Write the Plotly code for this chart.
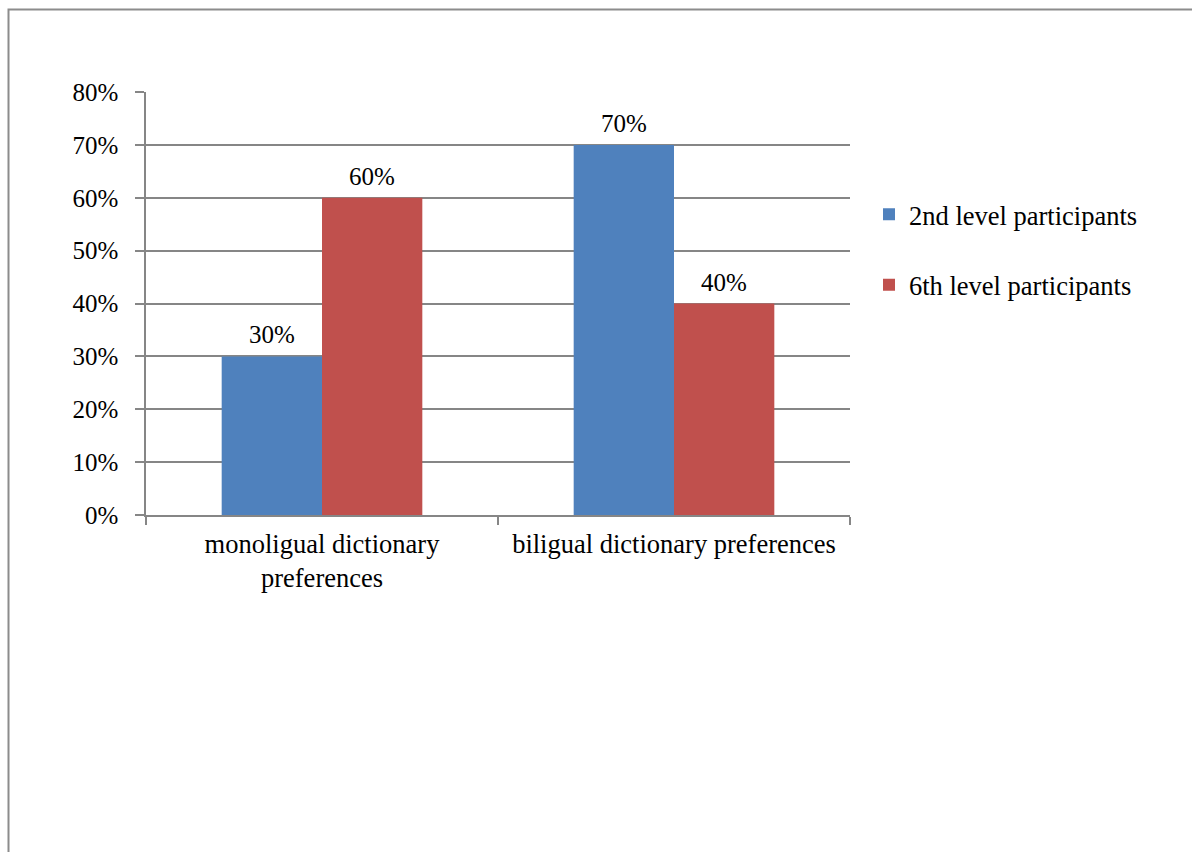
import plotly.graph_objects as go

# Dictionary preference by participant level
categories = ["monoligual dictionary<br>preferences", "biligual dictionary preferences"]
series_names = ["2nd level participants", "6th level participants"]
level2_values = [30, 70]
level6_values = [60, 40]
y_ticks = [0, 10, 20, 30, 40, 50, 60, 70, 80]

colors = ["#4F81BD", "#C0504D"]
font_family = "Liberation Serif, Times New Roman, serif"
axis_grey = "#868686"
num_size = 25
text_size = 26.5

W, H = 1192, 852
L, R, T, B = 146, 342, 92, 337
plot_w = W - L - R
plot_h = H - T - B
bar_px = 100  # bar width in pixels, used to offset value labels over each bar

fig = go.Figure()
all_series = [level2_values, level6_values]
for i, (name, vals) in enumerate(zip(series_names, all_series)):
    fig.add_trace(go.Bar(
        x=categories,
        y=vals,
        name=name,
        legendgroup=name,
        marker=dict(color=colors[i], line=dict(width=0)),
        cliponaxis=False,
    ))
    # value labels above each bar
    offset = (i - 0.5) * bar_px
    for cat, v in zip(categories, vals):
        fig.add_annotation(
            x=cat, y=v, xref="x", yref="y",
            text=f"{v}%", showarrow=False,
            xshift=offset, yshift=6, yanchor="bottom",
            font=dict(family=font_family, size=num_size, color="#000000"),
        )

# Outer chart frame (left and top edges visible)
def px_to_paper_x(px):
    return (px - L) / plot_w

def px_to_paper_y(py):
    return (H - B - py) / plot_h

fig.add_shape(
    type="rect", xref="paper", yref="paper",
    x0=px_to_paper_x(8.5), x1=px_to_paper_x(1260),
    y0=px_to_paper_y(920), y1=px_to_paper_y(9.5),
    line=dict(color="#8C8C8C", width=2), fillcolor="rgba(0,0,0,0)",
    layer="below",
)

fig.update_layout(
    width=W, height=H,
    margin=dict(l=L, r=R, t=T, b=B, autoexpand=False),
    paper_bgcolor="#FFFFFF",
    plot_bgcolor="#FFFFFF",
    barmode="group",
    bargap=0.43,
    bargroupgap=0,
    font=dict(family=font_family, size=text_size, color="#000000"),
    showlegend=True,
    legend=dict(
        x=px_to_paper_x(869), y=px_to_paper_y(249.5), xanchor="left", yanchor="middle",
        traceorder="grouped",
        tracegroupgap=33,
        font=dict(family=font_family, size=text_size, color="#000000"),
        itemwidth=30,
        bgcolor="rgba(0,0,0,0)",
    ),
    xaxis=dict(
        showgrid=False,
        showline=True, linecolor=axis_grey, linewidth=1.5,
        ticks="outside", tickson="boundaries", ticklen=8,
        tickcolor=axis_grey, tickwidth=1.5,
        ticklabelstandoff=4,
        tickfont=dict(family=font_family, size=text_size, color="#000000"),
    ),
    yaxis=dict(
        range=[0, 80],
        tickvals=y_ticks,
        ticktext=[f"{v}%" for v in y_ticks],
        showgrid=True, gridcolor=axis_grey, gridwidth=1.5,
        showline=True, linecolor=axis_grey, linewidth=1.5,
        ticks="outside", ticklen=9, tickcolor=axis_grey, tickwidth=1.5,
        ticklabelstandoff=12,
        tickfont=dict(family=font_family, size=num_size, color="#000000"),
        zeroline=False,
    ),
)

fig.write_html("out.html")
